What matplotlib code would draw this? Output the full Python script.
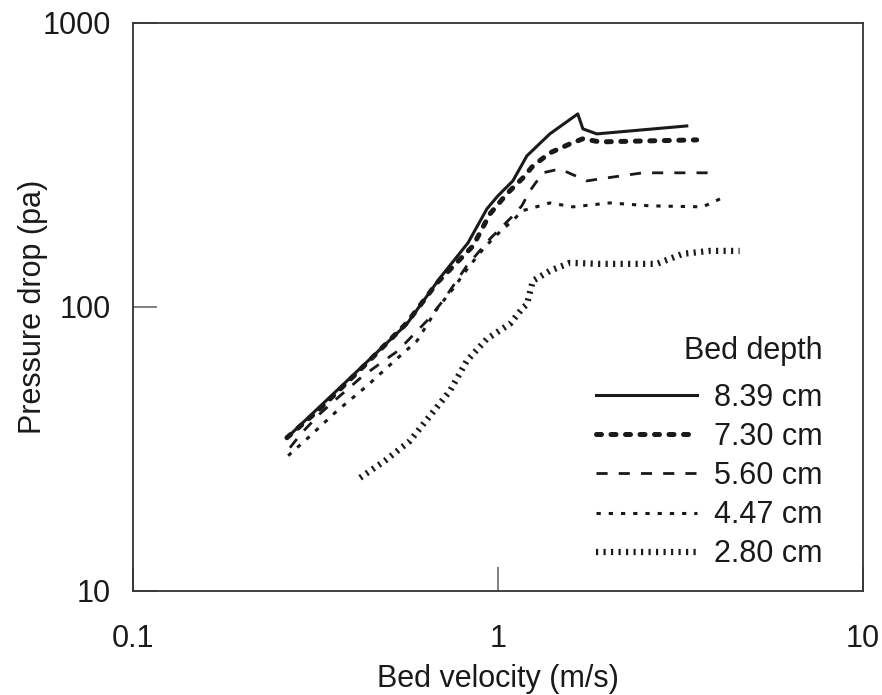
import matplotlib
matplotlib.use("Agg")
import matplotlib.pyplot as plt
from matplotlib.ticker import FixedLocator, NullLocator, FixedFormatter

plt.rcParams['font.family'] = ['Liberation Sans', 'DejaVu Sans']

# bed velocity (m/s) and pressure drop (pa) for each bed depth
v_839 = [0.264, 0.386, 0.563, 0.694, 0.828, 0.933, 1.0, 1.099, 1.201, 1.388, 1.656, 1.710, 1.867, 3.296]
p_839 = [34.6, 54.9, 87.1, 126.5, 168.0, 221.4, 246.0, 277.7, 340.3, 406.6, 478.2, 423.6, 406.6, 433.7]

v_730 = [0.264, 0.325, 0.438, 0.563, 0.681, 0.855, 0.951, 1.058, 1.171, 1.247, 1.388, 1.575, 1.710, 1.903, 3.508]
p_730 = [34.6, 43.7, 63.5, 87.8, 121.5, 164.0, 212.5, 250.0, 284.6, 313.4, 348.4, 374.9, 390.8, 381.1, 387.3]

v_560 = [0.269, 0.290, 0.325, 0.369, 0.427, 0.532, 0.639, 0.707, 0.822, 0.951, 1.099, 1.163, 1.224, 1.328, 1.479, 1.753, 1.903, 2.496, 3.857]
p_560 = [31.9, 36.0, 42.0, 48.6, 57.2, 70.0, 89.3, 105.0, 139.5, 173.5, 209.1, 226.9, 256.0, 296.5, 306.1, 277.7, 282.3, 296.5, 296.5]

v_447 = [0.266, 0.302, 0.362, 0.438, 0.496, 0.600, 0.681, 0.753, 0.828, 0.921, 1.032, 1.099, 1.163, 1.247, 1.388, 1.605, 2.027, 2.608, 3.645, 4.239]
p_447 = [29.9, 34.6, 43.0, 52.7, 61.0, 75.9, 98.4, 115.7, 137.2, 162.6, 188.2, 201.0, 217.8, 223.2, 232.3, 225.0, 232.3, 226.9, 225.0, 246.0]

v_280 = [0.419, 0.490, 0.574, 0.651, 0.739, 0.822, 0.933, 1.079, 1.171, 1.201, 1.247, 1.388, 1.575, 1.903, 2.727, 3.212, 3.81, 4.600]
p_280 = [25.0, 28.7, 33.7, 41.3, 50.6, 64.6, 77.1, 87.1, 99.2, 102.0, 123.5, 133.9, 142.9, 141.7, 141.7, 153.7, 157.4, 157.4]

labels = ['8.39 cm', '7.30 cm', '5.60 cm', '4.47 cm', '2.80 cm']
xticks = [0.1, 1, 10]
yticks = [10, 100, 1000]

fig = plt.figure(figsize=(8.82, 6.95), dpi=100)
ax = fig.add_axes([0.151, 0.150, 0.827, 0.817])

ink = '#1a1a1a'
ax.plot(v_839, p_839, color=ink, lw=2.2, label=labels[0])
ax.plot(v_730, p_730, color=ink, lw=3.6, linestyle=(0, (1.0, 1.9)),
        dash_capstyle='round', label=labels[1])
ax.plot(v_560, p_560, color=ink, lw=2.0, linestyle=(0, (4, 4)), label=labels[2])
ax.plot(v_447, p_447, color=ink, lw=2.2, linestyle=(0, (1.4, 2.6)), label=labels[3])
ax.plot(v_280, p_280, color=ink, lw=4.5, linestyle=(0, (0.35, 0.85)), label=labels[4])

ax.set_xscale('log')
ax.set_yscale('log')
ax.set_xlim(0.1, 10)
ax.set_ylim(10, 1000)
ax.xaxis.set_major_locator(FixedLocator(xticks))
ax.xaxis.set_major_formatter(FixedFormatter(['0.1', '1', '10']))
ax.yaxis.set_major_locator(FixedLocator(yticks))
ax.yaxis.set_major_formatter(FixedFormatter(['10', '100', '1000']))
ax.xaxis.set_minor_locator(NullLocator())
ax.yaxis.set_minor_locator(NullLocator())
ax.tick_params(axis='both', direction='in', length=17, width=1.3, color='#777777',
               labelsize=22, labelcolor=ink)
ax.tick_params(axis='x', pad=24)
ax.tick_params(axis='y', pad=16)
for s in ax.spines.values():
    s.set_linewidth(1.3)
    s.set_color('#333333')

ax.set_xlabel('Bed velocity (m/s)', fontsize=22, color=ink)
ax.set_ylabel('Pressure drop (pa)', fontsize=22, color=ink)
ax.xaxis.set_label_coords(0.5, -0.155)
ax.xaxis.label.set_va('center')
ax.yaxis.set_label_coords(-0.138, 0.5)
ax.yaxis.label.set_va('center')

leg = ax.legend(loc='lower right', bbox_to_anchor=(0.962, 0.016), frameon=False,
                fontsize=22, title='Bed depth', title_fontsize=22,
                handlelength=3.3, handletextpad=0.55, labelspacing=0.30,
                alignment='right', borderaxespad=0)
leg._legend_box.sep = 12
for t in leg.get_texts():
    t.set_color(ink)
leg.get_title().set_color(ink)

fig.savefig('out.png', dpi=100)
